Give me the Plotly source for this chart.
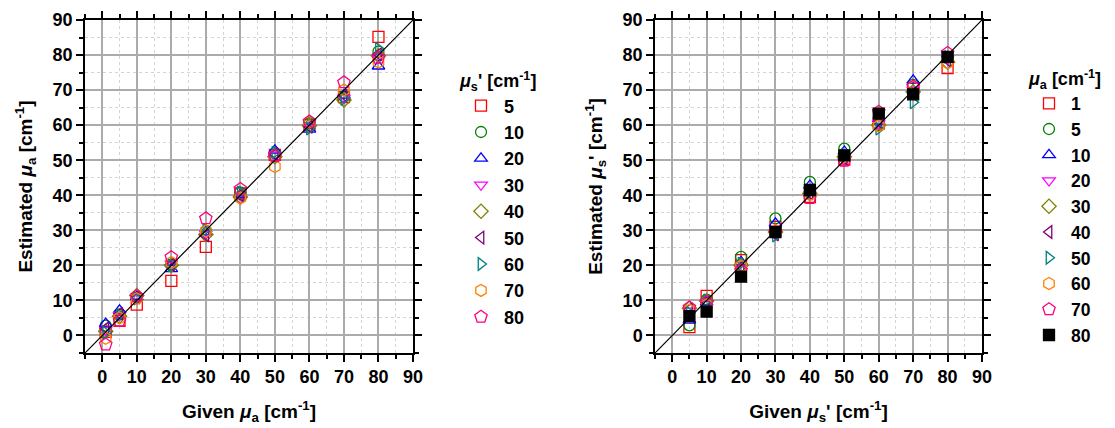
import plotly.graph_objects as go

# Left panel: estimated absorption vs. given absorption, one series per scattering level
given_mua = [1, 5, 10, 20, 30, 40, 50, 60, 70, 80]
mus_levels = ["5", "10", "20", "30", "40", "50", "60", "70", "80"]
est_mua_s5 = [1.0, 4.2, 8.8, 15.6, 25.3, 40.5, 51.5, 60.0, 68.0, 85.2]
est_mua_s10 = [2.8, 6.0, 10.8, 20.2, 29.8, 40.8, 52.0, 60.5, 68.2, 81.0]
est_mua_s20 = [3.4, 7.2, 11.0, 19.0, 29.5, 40.2, 52.8, 58.8, 68.5, 76.8]
est_mua_s30 = [1.5, 5.8, 10.5, 20.5, 29.0, 39.0, 51.5, 59.5, 67.8, 79.5]
est_mua_s40 = [1.2, 5.5, 11.4, 20.0, 28.8, 39.5, 51.0, 59.8, 67.2, 79.8]
est_mua_s50 = [2.0, 6.2, 10.8, 20.2, 28.5, 40.0, 51.8, 59.5, 68.5, 80.2]
est_mua_s60 = [0.8, 5.8, 10.5, 20.0, 30.2, 40.8, 52.2, 59.0, 67.5, 81.8]
est_mua_s70 = [-0.8, 5.0, 10.5, 20.8, 29.8, 39.2, 48.2, 61.0, 70.0, 78.0]
est_mua_s80 = [-2.6, 4.2, 11.2, 22.3, 33.4, 41.8, 51.2, 61.0, 72.2, 79.2]

# Right panel: estimated reduced scattering vs. given reduced scattering, one series per absorption level
given_mus = [5, 10, 20, 30, 40, 50, 60, 70, 80]
mua_levels = ["1", "5", "10", "20", "30", "40", "50", "60", "70", "80"]
est_mus_a1 = [2.4, 11.3, 21.5, 31.0, 39.5, 50.2, 60.5, 70.5, 76.3]
est_mus_a5 = [2.9, 10.2, 22.4, 33.4, 43.8, 53.3, 60.0, 71.5, 79.5]
est_mus_a10 = [4.3, 9.5, 21.0, 32.0, 42.8, 52.5, 61.0, 72.8, 78.8]
est_mus_a20 = [7.0, 9.0, 19.2, 29.0, 40.0, 50.0, 60.5, 70.0, 79.0]
est_mus_a30 = [7.8, 9.8, 20.0, 29.5, 40.5, 51.0, 60.0, 69.5, 78.0]
est_mus_a40 = [7.5, 9.5, 19.5, 28.8, 40.5, 50.5, 61.0, 69.0, 78.5]
est_mus_a50 = [6.5, 10.0, 20.5, 28.5, 41.0, 51.5, 59.0, 66.5, 79.5]
est_mus_a60 = [7.2, 8.8, 19.8, 30.0, 40.2, 51.0, 59.8, 70.8, 77.8]
est_mus_a70 = [8.0, 9.5, 18.5, 29.5, 39.2, 49.8, 63.8, 71.0, 80.6]
est_mus_a80 = [5.5, 6.8, 16.8, 29.5, 41.5, 51.4, 63.3, 68.8, 79.5]

left_series = [est_mua_s5, est_mua_s10, est_mua_s20, est_mua_s30, est_mua_s40,
               est_mua_s50, est_mua_s60, est_mua_s70, est_mua_s80]
right_series = [est_mus_a1, est_mus_a5, est_mus_a10, est_mus_a20, est_mus_a30,
                est_mus_a40, est_mus_a50, est_mus_a60, est_mus_a70, est_mus_a80]

symbols = ["square-open", "circle-open", "triangle-up-open", "triangle-down-open",
           "diamond-open", "triangle-left-open", "triangle-right-open",
           "hexagon-open", "pentagon-open", "square"]
colors = ["#FF0000", "#008000", "#0000FF", "#FF00FF", "#808000",
          "#800080", "#008080", "#FF8000", "#FF0080", "#000000"]
sizes = [11, 11, 11, 11, 11, 11, 11, 12, 13, 11]

FONT = "Liberation Sans, Arial, sans-serif"
AX_RANGE = [-5, 90]

fig = go.Figure()

for i, (lvl, ys) in enumerate(zip(mus_levels, left_series)):
    fig.add_trace(go.Scatter(
        x=given_mua, y=ys, mode="markers", name=lvl, legend="legend",
        xaxis="x", yaxis="y",
        marker=dict(symbol=symbols[i], color=colors[i], size=sizes[i],
                    line=dict(width=1.3, color=colors[i])),
    ))

for i, (lvl, ys) in enumerate(zip(mua_levels, right_series)):
    fig.add_trace(go.Scatter(
        x=given_mus, y=ys, mode="markers", name=lvl, legend="legend2",
        xaxis="x2", yaxis="y2",
        marker=dict(symbol=symbols[i], color=colors[i], size=sizes[i],
                    line=dict(width=1.3, color=colors[i])),
    ))

# identity lines
for xa, ya in (("x", "y"), ("x2", "y2")):
    fig.add_trace(go.Scatter(
        x=AX_RANGE, y=AX_RANGE, mode="lines", xaxis=xa, yaxis=ya,
        line=dict(color="black", width=1.2), showlegend=False, hoverinfo="skip",
    ))


def axis_style(domain, title, anchor, standoff):
    return dict(
        domain=domain, anchor=anchor, range=AX_RANGE,
        tickvals=list(range(0, 91, 10)),
        ticks="outside", ticklen=7, tickwidth=1.5, tickcolor="black",
        showline=True, linecolor="black", linewidth=1.5, mirror="allticks",
        showgrid=True, gridcolor="#ABABAB", gridwidth=1.6,
        zeroline=False,
        minor=dict(dtick=5, tick0=0, ticks="outside", ticklen=4, tickcolor="black",
                   showgrid=True, gridcolor="#D4D4D4", griddash="dot", gridwidth=1),
        tickfont=dict(family=FONT, size=18, color="black", weight="bold"),
        title=dict(text=title, font=dict(family=FONT, size=19, color="black"),
                   standoff=standoff),
        automargin=False,
    )


ydom = [1 - 353 / 428, 1 - 20 / 428]
fig.update_layout(
    width=1115, height=428,
    margin=dict(l=0, r=0, t=0, b=0),
    paper_bgcolor="white", plot_bgcolor="white",
    xaxis=axis_style([85 / 1115, 413 / 1115],
                     "<b>Given <i>μ</i><sub>a</sub> [cm<sup>-1</sup>]</b>", "y", 18),
    yaxis=axis_style(ydom,
                     "<b>Estimated <i>μ</i><sub>a</sub> [cm<sup>-1</sup>]</b>", "x", 15),
    xaxis2=axis_style([655 / 1115, 982 / 1115],
                      "<b>Given <i>μ</i><sub>s</sub>' [cm<sup>-1</sup>]</b>", "y2", 18),
    yaxis2=axis_style(ydom,
                      "<b>Estimated <i>μ</i><sub>s</sub>' [cm<sup>-1</sup>]</b>", "x2", 15),
    legend=dict(
        x=458 / 1115, y=1 - 64 / 428, xanchor="left", yanchor="top",
        bgcolor="rgba(0,0,0,0)", itemwidth=36,
        font=dict(family=FONT, size=18, color="black", weight="bold"),
        title=dict(text="<b><i>μ</i><sub>s</sub>' [cm<sup>-1</sup>]</b>",
                   font=dict(family=FONT, size=18, color="black")),
    ),
    legend2=dict(
        x=1027 / 1115, y=1 - 62 / 428, xanchor="left", yanchor="top",
        bgcolor="rgba(0,0,0,0)", itemwidth=34,
        font=dict(family=FONT, size=17.5, color="black", weight="bold"),
        title=dict(text="<b><i>μ</i><sub>a</sub> [cm<sup>-1</sup>]</b>",
                   font=dict(family=FONT, size=18, color="black")),
    ),
)

fig.write_html("out.html")
